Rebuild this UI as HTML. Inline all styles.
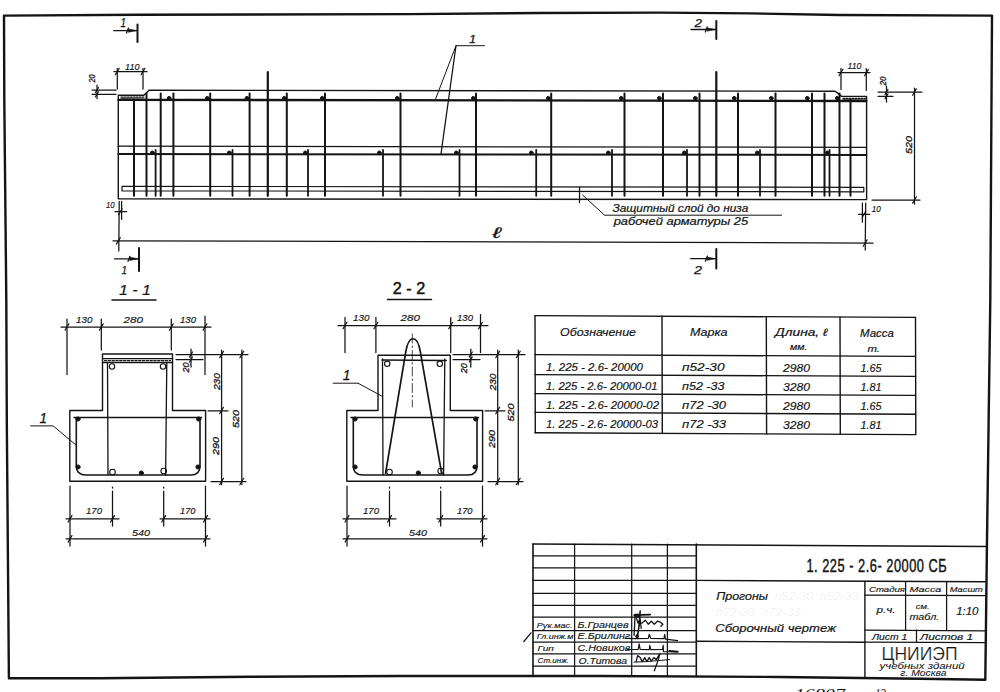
<!DOCTYPE html>
<html><head><meta charset="utf-8"><style>
html,body{margin:0;padding:0;background:#fff;width:1000px;height:692px;overflow:hidden}
svg{display:block}
line,polyline,polygon,path,circle{stroke:#141414;stroke-linecap:round;stroke-linejoin:round}
text{font-family:"Liberation Sans",sans-serif;fill:#141414;stroke:#141414}
.h{font-style:italic}
.b{font-weight:bold}
.thin{stroke:#fff}
.sf{font-family:"Liberation Serif",serif;font-style:italic}
.g{fill:#f4f4f4;stroke:none;font-style:italic}
</style></head><body>
<svg width="1000" height="692" viewBox="0 0 1000 692">
<polygon points="4.00,15.60 140.00,14.75 410.00,14.10 540.00,13.00 660.00,12.60 750.00,13.40 840.00,15.00 992.00,15.60 990.30,300.00 987.00,540.00 985.30,679.80 920.00,678.80 780.00,677.00 600.00,676.00 400.00,676.00 250.00,676.80 100.00,678.20 8.90,678.30 8.10,580.00 6.80,420.00 6.30,300.00 4.30,100.00" stroke-width="2.4" fill="none"/>
<line x1="137.50" y1="24.40" x2="137.50" y2="42.00" stroke-width="2.0"/>
<line x1="113.70" y1="30.60" x2="137.50" y2="30.60" stroke-width="1.3"/>
<path d="M128.5,29.0 L136.5,30.6 L128.5,32.2 Z" stroke-width="0.6" fill="#111"/>
<line x1="126.50" y1="33.10" x2="128.50" y2="28.10" stroke-width="1.25"/>
<text x="120.50" y="27.00" font-size="12.5" textLength="5.50" lengthAdjust="spacingAndGlyphs" class="h" stroke-width="0.25">1</text>
<line x1="716.30" y1="21.00" x2="716.30" y2="39.00" stroke-width="2.0"/>
<line x1="691.00" y1="29.50" x2="716.30" y2="29.50" stroke-width="1.3"/>
<path d="M707.3,27.9 L715.3,29.5 L707.3,31.1 Z" stroke-width="0.6" fill="#111"/>
<line x1="705.30" y1="32.00" x2="707.30" y2="27.00" stroke-width="1.25"/>
<text x="694.50" y="27.00" font-size="11" textLength="7.50" lengthAdjust="spacingAndGlyphs" class="h" stroke-width="0.25">2</text>
<line x1="139.00" y1="248.00" x2="139.00" y2="271.00" stroke-width="2.0"/>
<line x1="114.50" y1="258.80" x2="139.00" y2="258.80" stroke-width="1.3"/>
<path d="M130,257.2 L138,258.8 L130,260.40000000000003 Z" stroke-width="0.6" fill="#111"/>
<line x1="128.00" y1="261.30" x2="130.00" y2="256.30" stroke-width="1.25"/>
<text x="121.50" y="274.00" font-size="11" textLength="5.50" lengthAdjust="spacingAndGlyphs" class="h" stroke-width="0.25">1</text>
<line x1="716.30" y1="249.00" x2="716.30" y2="268.50" stroke-width="2.0"/>
<line x1="690.70" y1="258.70" x2="716.30" y2="258.70" stroke-width="1.3"/>
<path d="M707.3,257.09999999999997 L715.3,258.7 L707.3,260.3 Z" stroke-width="0.6" fill="#111"/>
<line x1="705.30" y1="261.20" x2="707.30" y2="256.20" stroke-width="1.25"/>
<text x="694.00" y="274.30" font-size="11" textLength="8.00" lengthAdjust="spacingAndGlyphs" class="h" stroke-width="0.25">2</text>
<polyline points="118.30,198.80 118.30,95.30 143.80,95.30 149.00,90.20 835.20,91.20 841.60,96.40 866.60,96.40 866.60,199.60 118.30,198.80" stroke-width="1.4" fill="none"/>
<line x1="121.00" y1="97.20" x2="144.00" y2="97.20" stroke-width="1.25" stroke-dasharray="1.8,1.2" stroke="#666"/>
<line x1="121.50" y1="99.50" x2="144.00" y2="99.70" stroke-width="2.6"/>
<line x1="843.00" y1="98.30" x2="865.50" y2="98.30" stroke-width="1.25" stroke-dasharray="1.8,1.2" stroke="#666"/>
<line x1="843.50" y1="100.60" x2="865.50" y2="100.80" stroke-width="2.6"/>
<line x1="118.30" y1="99.80" x2="866.30" y2="101.00" stroke-width="2.3"/>
<line x1="118.30" y1="146.20" x2="866.30" y2="147.40" stroke-width="1.25"/>
<line x1="118.30" y1="154.00" x2="866.30" y2="155.00" stroke-width="2.0"/>
<path d="M122,186.3 L863.8,187.3 L863.8,191.8 L122,190.8 Z" stroke-width="1.2" fill="none"/>
<line x1="134.00" y1="100.00" x2="134.00" y2="195.80" stroke-width="2.0"/>
<line x1="146.50" y1="93.50" x2="146.50" y2="195.80" stroke-width="2.0"/>
<line x1="160.70" y1="93.50" x2="160.70" y2="195.80" stroke-width="2.0"/>
<line x1="173.40" y1="93.50" x2="173.40" y2="195.80" stroke-width="2.0"/>
<line x1="210.20" y1="93.50" x2="210.20" y2="195.80" stroke-width="2.0"/>
<line x1="249.60" y1="93.50" x2="249.60" y2="195.80" stroke-width="2.0"/>
<line x1="286.80" y1="93.50" x2="286.80" y2="195.80" stroke-width="2.0"/>
<line x1="325.00" y1="93.50" x2="325.00" y2="195.80" stroke-width="2.0"/>
<line x1="400.50" y1="93.50" x2="400.50" y2="195.80" stroke-width="2.0"/>
<line x1="476.00" y1="93.50" x2="476.00" y2="195.80" stroke-width="2.0"/>
<line x1="551.20" y1="93.50" x2="551.20" y2="195.80" stroke-width="2.0"/>
<line x1="624.50" y1="93.50" x2="624.50" y2="195.80" stroke-width="2.0"/>
<line x1="663.00" y1="93.50" x2="663.00" y2="195.80" stroke-width="2.0"/>
<line x1="699.50" y1="93.50" x2="699.50" y2="195.80" stroke-width="2.0"/>
<line x1="738.00" y1="93.50" x2="738.00" y2="195.80" stroke-width="2.0"/>
<line x1="775.50" y1="93.50" x2="775.50" y2="195.80" stroke-width="2.0"/>
<line x1="812.00" y1="93.50" x2="812.00" y2="195.80" stroke-width="2.0"/>
<line x1="824.50" y1="93.50" x2="824.50" y2="195.80" stroke-width="2.0"/>
<line x1="839.50" y1="93.50" x2="839.50" y2="195.80" stroke-width="2.0"/>
<line x1="850.50" y1="100.00" x2="850.50" y2="195.80" stroke-width="2.0"/>
<line x1="267.80" y1="72.00" x2="267.80" y2="195.80" stroke-width="2.2"/>
<line x1="716.30" y1="72.00" x2="716.30" y2="195.80" stroke-width="2.2"/>
<line x1="155.60" y1="150.00" x2="155.60" y2="195.80" stroke-width="1.8"/>
<line x1="232.50" y1="150.00" x2="232.50" y2="195.80" stroke-width="1.8"/>
<line x1="308.00" y1="150.00" x2="308.00" y2="195.80" stroke-width="1.8"/>
<line x1="383.00" y1="150.00" x2="383.00" y2="195.80" stroke-width="1.8"/>
<line x1="459.50" y1="150.00" x2="459.50" y2="195.80" stroke-width="1.8"/>
<line x1="536.20" y1="150.00" x2="536.20" y2="195.80" stroke-width="1.8"/>
<line x1="612.00" y1="150.00" x2="612.00" y2="195.80" stroke-width="1.8"/>
<line x1="687.00" y1="150.00" x2="687.00" y2="195.80" stroke-width="1.8"/>
<line x1="760.00" y1="150.00" x2="760.00" y2="195.80" stroke-width="1.8"/>
<line x1="829.50" y1="150.00" x2="829.50" y2="195.80" stroke-width="1.8"/>
<circle cx="169.10" cy="98.20" r="1.8" fill="#111" stroke="none"/>
<circle cx="207.30" cy="98.20" r="1.8" fill="#111" stroke="none"/>
<circle cx="246.90" cy="98.20" r="1.8" fill="#111" stroke="none"/>
<circle cx="284.30" cy="98.20" r="1.8" fill="#111" stroke="none"/>
<circle cx="322.30" cy="98.20" r="1.8" fill="#111" stroke="none"/>
<circle cx="397.30" cy="98.20" r="1.8" fill="#111" stroke="none"/>
<circle cx="473.30" cy="98.20" r="1.8" fill="#111" stroke="none"/>
<circle cx="548.30" cy="98.20" r="1.8" fill="#111" stroke="none"/>
<circle cx="621.30" cy="98.20" r="1.8" fill="#111" stroke="none"/>
<circle cx="659.30" cy="98.20" r="1.8" fill="#111" stroke="none"/>
<circle cx="695.30" cy="98.20" r="1.8" fill="#111" stroke="none"/>
<circle cx="734.30" cy="98.20" r="1.8" fill="#111" stroke="none"/>
<circle cx="771.30" cy="98.20" r="1.8" fill="#111" stroke="none"/>
<circle cx="807.30" cy="98.20" r="1.8" fill="#111" stroke="none"/>
<circle cx="837.30" cy="98.20" r="1.8" fill="#111" stroke="none"/>
<circle cx="152.30" cy="152.80" r="1.8" fill="#111" stroke="none"/>
<circle cx="229.30" cy="152.80" r="1.8" fill="#111" stroke="none"/>
<circle cx="305.30" cy="152.80" r="1.8" fill="#111" stroke="none"/>
<circle cx="379.30" cy="152.80" r="1.8" fill="#111" stroke="none"/>
<circle cx="456.30" cy="152.80" r="1.8" fill="#111" stroke="none"/>
<circle cx="531.30" cy="152.80" r="1.8" fill="#111" stroke="none"/>
<circle cx="608.30" cy="152.80" r="1.8" fill="#111" stroke="none"/>
<circle cx="684.30" cy="152.80" r="1.8" fill="#111" stroke="none"/>
<circle cx="757.30" cy="152.80" r="1.8" fill="#111" stroke="none"/>
<circle cx="827.30" cy="152.80" r="1.8" fill="#111" stroke="none"/>
<polyline points="435.00,100.50 456.00,45.70 484.50,45.70" stroke-width="1.0" fill="none"/>
<line x1="456.00" y1="45.70" x2="441.00" y2="153.80" stroke-width="1.25"/>
<text x="469.00" y="43.00" font-size="11" textLength="7.00" lengthAdjust="spacingAndGlyphs" class="h" stroke-width="0.25">1</text>
<line x1="117.30" y1="68.50" x2="117.30" y2="89.00" stroke-width="1.25"/>
<line x1="143.00" y1="68.50" x2="143.00" y2="89.00" stroke-width="1.25"/>
<line x1="114.00" y1="71.50" x2="147.00" y2="71.50" stroke-width="1.25"/>
<line x1="115.38" y1="74.70" x2="119.22" y2="68.30" stroke-width="1.25"/>
<line x1="141.08" y1="74.70" x2="144.92" y2="68.30" stroke-width="1.25"/>
<text x="125.00" y="69.50" font-size="8.5" textLength="14.50" lengthAdjust="spacingAndGlyphs" class="h" stroke-width="0.15">110</text>
<line x1="92.00" y1="90.00" x2="116.00" y2="90.00" stroke-width="1.25"/>
<line x1="92.00" y1="94.30" x2="116.00" y2="94.30" stroke-width="1.25"/>
<line x1="97.00" y1="85.00" x2="97.00" y2="98.50" stroke-width="1.25"/>
<line x1="95.50" y1="92.50" x2="98.50" y2="87.50" stroke-width="1.25"/>
<line x1="95.50" y1="96.80" x2="98.50" y2="91.80" stroke-width="1.25"/>
<text transform="translate(95.36 78.60) rotate(-90)" x="0" y="0" font-size="8.5" text-anchor="middle" textLength="8.00" lengthAdjust="spacingAndGlyphs" class="h" stroke-width="0.3">20</text>
<line x1="841.00" y1="68.50" x2="841.00" y2="89.50" stroke-width="1.25"/>
<line x1="866.30" y1="68.50" x2="866.30" y2="90.40" stroke-width="1.25"/>
<line x1="838.00" y1="72.50" x2="870.00" y2="72.50" stroke-width="1.25"/>
<line x1="839.08" y1="75.70" x2="842.92" y2="69.30" stroke-width="1.25"/>
<line x1="864.58" y1="75.70" x2="868.42" y2="69.30" stroke-width="1.25"/>
<text x="847.50" y="69.00" font-size="8.5" textLength="14.00" lengthAdjust="spacingAndGlyphs" class="h" stroke-width="0.15">110</text>
<line x1="878.00" y1="92.00" x2="922.00" y2="92.00" stroke-width="1.25"/>
<line x1="878.00" y1="96.30" x2="893.00" y2="96.30" stroke-width="1.25"/>
<line x1="886.50" y1="86.00" x2="886.50" y2="102.00" stroke-width="1.25"/>
<line x1="885.00" y1="94.50" x2="888.00" y2="89.50" stroke-width="1.25"/>
<line x1="885.00" y1="98.80" x2="888.00" y2="93.80" stroke-width="1.25"/>
<text transform="translate(886.06 81.00) rotate(-90)" x="0" y="0" font-size="8.5" text-anchor="middle" textLength="9.00" lengthAdjust="spacingAndGlyphs" class="h" stroke-width="0.3">20</text>
<line x1="872.00" y1="200.00" x2="920.00" y2="200.00" stroke-width="1.25"/>
<line x1="914.50" y1="88.00" x2="914.50" y2="204.00" stroke-width="1.25"/>
<line x1="912.58" y1="95.20" x2="916.42" y2="88.80" stroke-width="1.25"/>
<line x1="912.58" y1="203.20" x2="916.42" y2="196.80" stroke-width="1.25"/>
<text transform="translate(912.22 145.00) rotate(-90)" x="0" y="0" font-size="9.5" text-anchor="middle" textLength="18.00" lengthAdjust="spacingAndGlyphs" class="h" stroke-width="0.3">520</text>
<line x1="119.20" y1="201.40" x2="118.80" y2="251.00" stroke-width="1.25"/>
<line x1="121.60" y1="201.40" x2="121.60" y2="219.30" stroke-width="1.25"/>
<line x1="115.00" y1="211.70" x2="126.60" y2="211.70" stroke-width="1.25"/>
<line x1="118.72" y1="214.50" x2="122.08" y2="208.90" stroke-width="1.25"/>
<text x="105.90" y="208.00" font-size="9" textLength="8.60" lengthAdjust="spacingAndGlyphs" class="h" stroke-width="0.15">10</text>
<line x1="865.70" y1="203.00" x2="865.20" y2="250.00" stroke-width="1.25"/>
<line x1="862.40" y1="203.00" x2="862.40" y2="222.00" stroke-width="1.25"/>
<line x1="858.60" y1="214.30" x2="869.70" y2="214.30" stroke-width="1.25"/>
<line x1="862.32" y1="217.10" x2="865.68" y2="211.50" stroke-width="1.25"/>
<text x="871.70" y="211.80" font-size="9" textLength="9.10" lengthAdjust="spacingAndGlyphs" class="h" stroke-width="0.15">10</text>
<line x1="113.00" y1="240.80" x2="873.00" y2="243.00" stroke-width="1.25"/>
<line x1="116.38" y1="244.00" x2="120.22" y2="237.60" stroke-width="1.25"/>
<line x1="863.28" y1="246.20" x2="867.12" y2="239.80" stroke-width="1.25"/>
<text x="492.50" y="237.50" font-size="15" textLength="8.00" lengthAdjust="spacingAndGlyphs" class="h" stroke-width="0.3">ℓ</text>
<line x1="579.50" y1="187.50" x2="579.50" y2="202.50" stroke-width="1.25"/>
<polyline points="582.60,195.00 604.50,215.20 781.60,215.20" stroke-width="1.0" fill="none"/>
<text x="612.50" y="211.70" font-size="10" textLength="135.70" lengthAdjust="spacingAndGlyphs" class="h" stroke-width="0.2">Защитный слой до низа</text>
<text x="613.70" y="224.80" font-size="10" textLength="134.50" lengthAdjust="spacingAndGlyphs" class="h" stroke-width="0.2">рабочей арматуры  25</text>
<polygon points="69.80,481.30 69.80,410.50 102.50,410.50 102.50,354.00 172.50,354.00 172.50,410.50 205.60,410.50 205.60,481.30" stroke-width="1.4" fill="none"/>
<line x1="102.50" y1="358.50" x2="172.50" y2="358.50" stroke-width="1.25"/>
<line x1="102.50" y1="362.50" x2="172.50" y2="362.50" stroke-width="1.4"/>
<line x1="104.50" y1="360.60" x2="170.50" y2="360.60" stroke-width="1.3" stroke-dasharray="2.2,1.6" stroke="#555"/>
<line x1="107.50" y1="362.50" x2="108.00" y2="475.00" stroke-width="1.3"/>
<line x1="166.80" y1="362.50" x2="165.60" y2="475.00" stroke-width="1.3"/>
<circle cx="112.00" cy="366.50" r="2.7" fill="none" stroke-width="1.1"/>
<circle cx="163.00" cy="366.50" r="2.7" fill="none" stroke-width="1.1"/>
<line x1="74.00" y1="417.50" x2="201.50" y2="417.50" stroke-width="1.5"/>
<path d="M76.3,418 L76.3,466 Q76.3,475 86,475 L191,475 Q200,475 200,466 L200,418" stroke-width="1.6" fill="none"/>
<circle cx="78.00" cy="419.00" r="2.1" fill="#111" stroke="none"/>
<circle cx="198.70" cy="419.00" r="2.1" fill="#111" stroke="none"/>
<circle cx="78.00" cy="467.00" r="2.1" fill="#111" stroke="none"/>
<circle cx="198.00" cy="467.00" r="2.1" fill="#111" stroke="none"/>
<circle cx="112.50" cy="472.00" r="2.8" fill="none" stroke-width="1.1"/>
<circle cx="163.70" cy="471.00" r="2.8" fill="none" stroke-width="1.1"/>
<circle cx="141.30" cy="473.00" r="2.1" fill="#111" stroke="none"/>
<line x1="61.00" y1="327.00" x2="211.00" y2="327.00" stroke-width="1.25"/>
<line x1="65.08" y1="330.20" x2="68.92" y2="323.80" stroke-width="1.25"/>
<line x1="99.38" y1="330.20" x2="103.22" y2="323.80" stroke-width="1.25"/>
<line x1="169.38" y1="330.20" x2="173.22" y2="323.80" stroke-width="1.25"/>
<line x1="203.08" y1="330.20" x2="206.92" y2="323.80" stroke-width="1.25"/>
<line x1="67.00" y1="319.00" x2="67.00" y2="374.50" stroke-width="1.25"/>
<line x1="205.00" y1="316.00" x2="205.00" y2="374.50" stroke-width="1.25"/>
<line x1="101.30" y1="319.00" x2="101.30" y2="350.00" stroke-width="1.25"/>
<line x1="171.30" y1="319.00" x2="171.30" y2="350.00" stroke-width="1.25"/>
<text x="76.00" y="322.50" font-size="9" textLength="16.40" lengthAdjust="spacingAndGlyphs" class="h" stroke-width="0.15">130</text>
<text x="123.60" y="322.50" font-size="9" textLength="19.40" lengthAdjust="spacingAndGlyphs" class="h" stroke-width="0.15">280</text>
<text x="180.00" y="322.50" font-size="9" textLength="16.00" lengthAdjust="spacingAndGlyphs" class="h" stroke-width="0.15">130</text>
<line x1="176.00" y1="354.50" x2="248.00" y2="354.50" stroke-width="1.25"/>
<line x1="176.00" y1="359.50" x2="203.00" y2="359.50" stroke-width="1.25"/>
<line x1="191.00" y1="349.00" x2="191.00" y2="367.00" stroke-width="1.25"/>
<line x1="189.50" y1="357.00" x2="192.50" y2="352.00" stroke-width="1.25"/>
<line x1="189.50" y1="362.00" x2="192.50" y2="357.00" stroke-width="1.25"/>
<text transform="translate(189.24 367.50) rotate(-90)" x="0" y="0" font-size="9" text-anchor="middle" textLength="10.00" lengthAdjust="spacingAndGlyphs" class="h" stroke-width="0.3">20</text>
<line x1="221.60" y1="350.00" x2="221.60" y2="484.50" stroke-width="1.25"/>
<line x1="219.68" y1="357.70" x2="223.52" y2="351.30" stroke-width="1.25"/>
<line x1="219.68" y1="413.70" x2="223.52" y2="407.30" stroke-width="1.25"/>
<line x1="219.68" y1="484.70" x2="223.52" y2="478.30" stroke-width="1.25"/>
<line x1="208.00" y1="410.80" x2="228.00" y2="410.80" stroke-width="1.25"/>
<line x1="211.00" y1="481.50" x2="246.00" y2="481.50" stroke-width="1.25"/>
<line x1="241.80" y1="350.00" x2="241.80" y2="484.50" stroke-width="1.25"/>
<line x1="239.88" y1="357.70" x2="243.72" y2="351.30" stroke-width="1.25"/>
<line x1="239.88" y1="484.70" x2="243.72" y2="478.30" stroke-width="1.25"/>
<text transform="translate(219.52 381.60) rotate(-90)" x="0" y="0" font-size="9.5" text-anchor="middle" textLength="17.00" lengthAdjust="spacingAndGlyphs" class="h" stroke-width="0.3">230</text>
<text transform="translate(238.52 419.00) rotate(-90)" x="0" y="0" font-size="9.5" text-anchor="middle" textLength="18.00" lengthAdjust="spacingAndGlyphs" class="h" stroke-width="0.3">520</text>
<text transform="translate(218.92 446.00) rotate(-90)" x="0" y="0" font-size="9.5" text-anchor="middle" textLength="18.00" lengthAdjust="spacingAndGlyphs" class="h" stroke-width="0.3">290</text>
<line x1="70.00" y1="486.00" x2="70.00" y2="546.00" stroke-width="1.25"/>
<line x1="205.50" y1="486.00" x2="205.50" y2="546.00" stroke-width="1.25"/>
<line x1="112.50" y1="487.00" x2="112.50" y2="488.00" stroke-width="1.25"/>
<line x1="112.50" y1="491.00" x2="112.50" y2="526.00" stroke-width="1.25"/>
<line x1="163.70" y1="487.00" x2="163.70" y2="488.00" stroke-width="1.25"/>
<line x1="163.70" y1="491.00" x2="163.70" y2="526.00" stroke-width="1.25"/>
<line x1="66.00" y1="518.80" x2="119.00" y2="518.80" stroke-width="1.25"/>
<line x1="160.00" y1="518.80" x2="210.00" y2="518.80" stroke-width="1.25"/>
<line x1="68.08" y1="522.00" x2="71.92" y2="515.60" stroke-width="1.25"/>
<line x1="110.58" y1="522.00" x2="114.42" y2="515.60" stroke-width="1.25"/>
<line x1="161.78" y1="522.00" x2="165.62" y2="515.60" stroke-width="1.25"/>
<line x1="203.58" y1="522.00" x2="207.42" y2="515.60" stroke-width="1.25"/>
<line x1="66.00" y1="538.80" x2="210.00" y2="538.80" stroke-width="1.25"/>
<line x1="68.08" y1="542.00" x2="71.92" y2="535.60" stroke-width="1.25"/>
<line x1="203.58" y1="542.00" x2="207.42" y2="535.60" stroke-width="1.25"/>
<text x="86.00" y="514.00" font-size="9" textLength="16.00" lengthAdjust="spacingAndGlyphs" class="h" stroke-width="0.15">170</text>
<text x="180.00" y="514.00" font-size="9" textLength="15.50" lengthAdjust="spacingAndGlyphs" class="h" stroke-width="0.15">170</text>
<text x="132.00" y="535.50" font-size="9" textLength="18.00" lengthAdjust="spacingAndGlyphs" class="h" stroke-width="0.15">540</text>
<polygon points="346.80,481.30 346.80,410.50 378.00,410.50 378.00,355.30 450.30,355.30 450.30,410.50 482.60,410.50 482.60,481.30" stroke-width="1.4" fill="none"/>
<line x1="382.50" y1="359.00" x2="383.00" y2="475.00" stroke-width="1.3"/>
<line x1="444.80" y1="359.00" x2="443.60" y2="475.00" stroke-width="1.3"/>
<line x1="382.00" y1="360.00" x2="446.30" y2="360.50" stroke-width="1.4"/>
<circle cx="387.20" cy="363.80" r="2.7" fill="none" stroke-width="1.1"/>
<circle cx="439.80" cy="363.80" r="2.7" fill="none" stroke-width="1.1"/>
<line x1="351.00" y1="417.50" x2="478.50" y2="417.50" stroke-width="1.5"/>
<path d="M353.3,418 L353.3,466 Q353.3,475 363,475 L468,475 Q477,475 477,466 L477,418" stroke-width="1.6" fill="none"/>
<circle cx="355.00" cy="419.00" r="2.1" fill="#111" stroke="none"/>
<circle cx="475.70" cy="419.00" r="2.1" fill="#111" stroke="none"/>
<circle cx="355.00" cy="467.00" r="2.1" fill="#111" stroke="none"/>
<circle cx="475.00" cy="467.00" r="2.1" fill="#111" stroke="none"/>
<circle cx="389.50" cy="472.00" r="2.8" fill="none" stroke-width="1.1"/>
<circle cx="440.70" cy="471.00" r="2.8" fill="none" stroke-width="1.1"/>
<circle cx="418.30" cy="473.00" r="2.1" fill="#111" stroke="none"/>
<line x1="338.00" y1="325.50" x2="488.00" y2="325.50" stroke-width="1.25"/>
<line x1="343.08" y1="328.70" x2="346.92" y2="322.30" stroke-width="1.25"/>
<line x1="373.98" y1="328.70" x2="377.82" y2="322.30" stroke-width="1.25"/>
<line x1="448.78" y1="328.70" x2="452.62" y2="322.30" stroke-width="1.25"/>
<line x1="478.58" y1="328.70" x2="482.42" y2="322.30" stroke-width="1.25"/>
<line x1="345.00" y1="317.50" x2="345.00" y2="352.60" stroke-width="1.25"/>
<line x1="480.50" y1="314.50" x2="480.50" y2="352.60" stroke-width="1.25"/>
<line x1="375.90" y1="317.50" x2="375.90" y2="352.60" stroke-width="1.25"/>
<line x1="450.70" y1="317.50" x2="450.70" y2="352.60" stroke-width="1.25"/>
<text x="353.00" y="321.00" font-size="9" textLength="16.40" lengthAdjust="spacingAndGlyphs" class="h" stroke-width="0.15">130</text>
<text x="400.60" y="321.00" font-size="9" textLength="19.40" lengthAdjust="spacingAndGlyphs" class="h" stroke-width="0.15">280</text>
<text x="457.00" y="321.00" font-size="9" textLength="16.00" lengthAdjust="spacingAndGlyphs" class="h" stroke-width="0.15">130</text>
<line x1="453.00" y1="354.50" x2="525.00" y2="354.50" stroke-width="1.25"/>
<line x1="453.00" y1="359.50" x2="480.00" y2="359.50" stroke-width="1.25"/>
<line x1="470.80" y1="349.00" x2="470.80" y2="367.00" stroke-width="1.25"/>
<line x1="469.30" y1="357.00" x2="472.30" y2="352.00" stroke-width="1.25"/>
<line x1="469.30" y1="362.00" x2="472.30" y2="357.00" stroke-width="1.25"/>
<text transform="translate(467.24 368.30) rotate(-90)" x="0" y="0" font-size="9" text-anchor="middle" textLength="10.00" lengthAdjust="spacingAndGlyphs" class="h" stroke-width="0.3">20</text>
<line x1="497.70" y1="350.00" x2="497.70" y2="484.50" stroke-width="1.25"/>
<line x1="495.78" y1="357.70" x2="499.62" y2="351.30" stroke-width="1.25"/>
<line x1="495.78" y1="413.70" x2="499.62" y2="407.30" stroke-width="1.25"/>
<line x1="495.78" y1="484.70" x2="499.62" y2="478.30" stroke-width="1.25"/>
<line x1="485.00" y1="410.80" x2="505.00" y2="410.80" stroke-width="1.25"/>
<line x1="488.00" y1="481.50" x2="523.00" y2="481.50" stroke-width="1.25"/>
<line x1="518.30" y1="350.00" x2="518.30" y2="484.50" stroke-width="1.25"/>
<line x1="516.38" y1="357.70" x2="520.22" y2="351.30" stroke-width="1.25"/>
<line x1="516.38" y1="484.70" x2="520.22" y2="478.30" stroke-width="1.25"/>
<text transform="translate(496.32 382.00) rotate(-90)" x="0" y="0" font-size="9.5" text-anchor="middle" textLength="17.00" lengthAdjust="spacingAndGlyphs" class="h" stroke-width="0.3">230</text>
<text transform="translate(514.22 412.40) rotate(-90)" x="0" y="0" font-size="9.5" text-anchor="middle" textLength="18.00" lengthAdjust="spacingAndGlyphs" class="h" stroke-width="0.3">520</text>
<text transform="translate(494.92 439.10) rotate(-90)" x="0" y="0" font-size="9.5" text-anchor="middle" textLength="18.00" lengthAdjust="spacingAndGlyphs" class="h" stroke-width="0.3">290</text>
<line x1="347.00" y1="486.00" x2="347.00" y2="546.00" stroke-width="1.25"/>
<line x1="482.50" y1="486.00" x2="482.50" y2="546.00" stroke-width="1.25"/>
<line x1="389.50" y1="487.00" x2="389.50" y2="488.00" stroke-width="1.25"/>
<line x1="389.50" y1="491.00" x2="389.50" y2="526.00" stroke-width="1.25"/>
<line x1="440.70" y1="487.00" x2="440.70" y2="488.00" stroke-width="1.25"/>
<line x1="440.70" y1="491.00" x2="440.70" y2="526.00" stroke-width="1.25"/>
<line x1="343.00" y1="518.80" x2="396.00" y2="518.80" stroke-width="1.25"/>
<line x1="437.00" y1="518.80" x2="487.00" y2="518.80" stroke-width="1.25"/>
<line x1="345.08" y1="522.00" x2="348.92" y2="515.60" stroke-width="1.25"/>
<line x1="387.58" y1="522.00" x2="391.42" y2="515.60" stroke-width="1.25"/>
<line x1="438.78" y1="522.00" x2="442.62" y2="515.60" stroke-width="1.25"/>
<line x1="480.58" y1="522.00" x2="484.42" y2="515.60" stroke-width="1.25"/>
<line x1="343.00" y1="538.80" x2="487.00" y2="538.80" stroke-width="1.25"/>
<line x1="345.08" y1="542.00" x2="348.92" y2="535.60" stroke-width="1.25"/>
<line x1="480.58" y1="542.00" x2="484.42" y2="535.60" stroke-width="1.25"/>
<text x="363.00" y="514.00" font-size="9" textLength="16.00" lengthAdjust="spacingAndGlyphs" class="h" stroke-width="0.15">170</text>
<text x="457.00" y="514.00" font-size="9" textLength="15.50" lengthAdjust="spacingAndGlyphs" class="h" stroke-width="0.15">170</text>
<text x="409.00" y="535.50" font-size="9" textLength="18.00" lengthAdjust="spacingAndGlyphs" class="h" stroke-width="0.15">540</text>
<path d="M385.6,473.2 L405.8,351.7 C408.7,334.4 417.4,334.4 420.3,351.7 L441.6,473.2" stroke-width="1.7" fill="none"/>
<line x1="412.3" y1="334" x2="412.3" y2="407" stroke-width="0.8" stroke-dasharray="9,3,1.5,3"/>
<text x="119.00" y="295.00" font-size="15.5" textLength="32.00" lengthAdjust="spacingAndGlyphs" class="h" stroke-width="0.15">1 - 1</text>
<line x1="112.00" y1="300.00" x2="156.00" y2="300.00" stroke-width="1.5"/>
<text x="392.80" y="294.00" font-size="16.5" textLength="32.40" lengthAdjust="spacingAndGlyphs" class="s" stroke-width="0.5">2 - 2</text>
<line x1="387.50" y1="299.50" x2="431.50" y2="299.50" stroke-width="1.5"/>
<polyline points="30.60,425.90 53.20,425.90 76.30,445.30" stroke-width="1.0" fill="none"/>
<text x="39.50" y="422.80" font-size="14" textLength="7.50" lengthAdjust="spacingAndGlyphs" class="h" stroke-width="0.25">1</text>
<polyline points="333.20,383.20 358.00,383.20 382.40,396.40" stroke-width="1.0" fill="none"/>
<text x="342.80" y="380.00" font-size="14" textLength="7.70" lengthAdjust="spacingAndGlyphs" class="h" stroke-width="0.25">1</text>
<line x1="535.00" y1="315.60" x2="915.50" y2="317.40" stroke-width="1.4"/>
<line x1="535.00" y1="354.60" x2="915.50" y2="356.40" stroke-width="1.4"/>
<line x1="535.00" y1="374.60" x2="915.50" y2="376.40" stroke-width="1.4"/>
<line x1="535.00" y1="393.60" x2="915.50" y2="395.40" stroke-width="1.4"/>
<line x1="535.00" y1="412.40" x2="915.50" y2="414.20" stroke-width="1.4"/>
<line x1="535.00" y1="432.80" x2="915.50" y2="434.60" stroke-width="1.4"/>
<line x1="535.00" y1="315.60" x2="535.30" y2="432.80" stroke-width="1.4"/>
<line x1="662.00" y1="316.20" x2="662.30" y2="433.40" stroke-width="1.4"/>
<line x1="766.30" y1="316.69" x2="766.60" y2="433.89" stroke-width="1.4"/>
<line x1="840.00" y1="317.04" x2="840.30" y2="434.24" stroke-width="1.4"/>
<line x1="915.50" y1="317.40" x2="915.80" y2="434.60" stroke-width="1.4"/>
<text x="560.00" y="335.50" font-size="10" textLength="76.00" lengthAdjust="spacingAndGlyphs" class="h" stroke-width="0.15">Обозначение</text>
<text x="690.00" y="335.50" font-size="10" textLength="37.50" lengthAdjust="spacingAndGlyphs" class="h" stroke-width="0.15">Марка</text>
<text x="775.00" y="336.00" font-size="10.5" textLength="52.50" lengthAdjust="spacingAndGlyphs" class="h" stroke-width="0.2">Длина, ℓ</text>
<text x="790.00" y="350.00" font-size="9.5" textLength="17.50" lengthAdjust="spacingAndGlyphs" class="h" stroke-width="0.2">мм.</text>
<text x="860.00" y="337.00" font-size="10.5" textLength="33.80" lengthAdjust="spacingAndGlyphs" class="h" stroke-width="0.2">Масса</text>
<text x="867.50" y="351.50" font-size="9.5" textLength="12.50" lengthAdjust="spacingAndGlyphs" class="h" stroke-width="0.2">т.</text>
<text x="546.00" y="370.50" font-size="10" textLength="97.00" lengthAdjust="spacingAndGlyphs" class="h" stroke-width="0.15">1. 225 - 2.6- 20000</text>
<text x="682.00" y="370.50" font-size="10" textLength="42.50" lengthAdjust="spacingAndGlyphs" class="h" stroke-width="0.15">п52-30</text>
<text x="783.00" y="371.50" font-size="10" textLength="27.00" lengthAdjust="spacingAndGlyphs" class="h" stroke-width="0.15">2980</text>
<text x="860.50" y="371.50" font-size="10" textLength="21.00" lengthAdjust="spacingAndGlyphs" class="h" stroke-width="0.15">1.65</text>
<text x="546.00" y="390.00" font-size="10" textLength="111.50" lengthAdjust="spacingAndGlyphs" class="h" stroke-width="0.15">1. 225 - 2.6- 20000-01</text>
<text x="682.00" y="390.00" font-size="10" textLength="42.50" lengthAdjust="spacingAndGlyphs" class="h" stroke-width="0.15">п52 -33</text>
<text x="783.00" y="391.00" font-size="10" textLength="27.00" lengthAdjust="spacingAndGlyphs" class="h" stroke-width="0.15">3280</text>
<text x="860.50" y="391.00" font-size="10" textLength="21.00" lengthAdjust="spacingAndGlyphs" class="h" stroke-width="0.15">1.81</text>
<text x="546.00" y="409.00" font-size="10" textLength="113.00" lengthAdjust="spacingAndGlyphs" class="h" stroke-width="0.15">1. 225 - 2.6- 20000-02</text>
<text x="682.00" y="409.00" font-size="10" textLength="44.00" lengthAdjust="spacingAndGlyphs" class="h" stroke-width="0.15">п72 -30</text>
<text x="783.00" y="410.00" font-size="10" textLength="27.00" lengthAdjust="spacingAndGlyphs" class="h" stroke-width="0.15">2980</text>
<text x="860.50" y="410.00" font-size="10" textLength="21.00" lengthAdjust="spacingAndGlyphs" class="h" stroke-width="0.15">1.65</text>
<text x="546.00" y="428.20" font-size="10" textLength="112.00" lengthAdjust="spacingAndGlyphs" class="h" stroke-width="0.15">1. 225 - 2.6- 20000-03</text>
<text x="682.00" y="428.20" font-size="10" textLength="44.00" lengthAdjust="spacingAndGlyphs" class="h" stroke-width="0.15">п72 -33</text>
<text x="783.00" y="429.20" font-size="10" textLength="27.00" lengthAdjust="spacingAndGlyphs" class="h" stroke-width="0.15">3280</text>
<text x="860.50" y="429.20" font-size="10" textLength="21.00" lengthAdjust="spacingAndGlyphs" class="h" stroke-width="0.15">1.81</text>
<line x1="533.00" y1="544.00" x2="986.50" y2="546.50" stroke-width="1.6"/>
<line x1="533.00" y1="544.00" x2="533.00" y2="676.00" stroke-width="1.6"/>
<line x1="533.00" y1="555.80" x2="696.30" y2="555.80" stroke-width="1.25"/>
<line x1="533.00" y1="567.80" x2="696.30" y2="567.80" stroke-width="1.25"/>
<line x1="533.00" y1="580.30" x2="696.30" y2="580.30" stroke-width="1.25"/>
<line x1="533.00" y1="593.30" x2="696.30" y2="593.30" stroke-width="1.25"/>
<line x1="533.00" y1="605.30" x2="696.30" y2="605.30" stroke-width="1.25"/>
<line x1="533.00" y1="617.10" x2="696.30" y2="617.10" stroke-width="1.25"/>
<line x1="533.00" y1="630.70" x2="696.30" y2="630.70" stroke-width="1.25"/>
<line x1="533.00" y1="642.00" x2="696.30" y2="642.00" stroke-width="1.25"/>
<line x1="533.00" y1="653.90" x2="696.30" y2="653.90" stroke-width="1.25"/>
<line x1="533.00" y1="666.10" x2="696.30" y2="666.10" stroke-width="1.25"/>
<line x1="574.60" y1="544.00" x2="574.60" y2="676.00" stroke-width="1.25"/>
<line x1="631.70" y1="544.00" x2="631.70" y2="676.00" stroke-width="1.25"/>
<line x1="667.40" y1="544.00" x2="667.40" y2="676.00" stroke-width="1.25"/>
<line x1="696.30" y1="544.00" x2="696.30" y2="676.50" stroke-width="1.6"/>
<line x1="696.30" y1="580.40" x2="986.50" y2="581.80" stroke-width="1.4"/>
<line x1="696.30" y1="641.20" x2="865.00" y2="642.20" stroke-width="1.4"/>
<line x1="864.90" y1="582.00" x2="864.90" y2="678.00" stroke-width="1.4"/>
<line x1="865.00" y1="595.00" x2="986.50" y2="595.50" stroke-width="1.25"/>
<line x1="865.00" y1="630.20" x2="986.50" y2="630.80" stroke-width="1.25"/>
<line x1="865.00" y1="642.20" x2="986.50" y2="642.60" stroke-width="1.25"/>
<line x1="905.60" y1="582.00" x2="905.60" y2="630.20" stroke-width="1.25"/>
<line x1="946.60" y1="582.00" x2="946.60" y2="630.20" stroke-width="1.25"/>
<line x1="916.50" y1="630.20" x2="916.50" y2="642.30" stroke-width="1.25"/>
<line x1="523.80" y1="641.50" x2="531.00" y2="632.80" stroke-width="1.25"/>
<text x="536.80" y="627.50" font-size="8" textLength="35.70" lengthAdjust="spacingAndGlyphs" class="h" stroke-width="0.15">Рук.мас.</text>
<text x="536.80" y="638.90" font-size="8" textLength="36.60" lengthAdjust="spacingAndGlyphs" class="h" stroke-width="0.15">Гл.инж.м</text>
<text x="537.60" y="650.80" font-size="8" textLength="16.20" lengthAdjust="spacingAndGlyphs" class="h" stroke-width="0.15">Гип</text>
<text x="537.60" y="662.70" font-size="8" textLength="31.40" lengthAdjust="spacingAndGlyphs" class="h" stroke-width="0.15">Ст.инж.</text>
<text x="577.60" y="627.90" font-size="9" textLength="51.00" lengthAdjust="spacingAndGlyphs" class="h" stroke-width="0.15">Б.Гранцев</text>
<text x="577.60" y="639.30" font-size="9" textLength="52.70" lengthAdjust="spacingAndGlyphs" class="h" stroke-width="0.15">Е.Брилинг</text>
<text x="577.60" y="650.80" font-size="9" textLength="52.70" lengthAdjust="spacingAndGlyphs" class="h" stroke-width="0.15">С.Новиков</text>
<text x="578.50" y="663.60" font-size="9" textLength="48.50" lengthAdjust="spacingAndGlyphs" class="h" stroke-width="0.15">О.Титова</text>
<text transform="translate(806.40 571.60) scale(0.72 1)" x="0" y="0" font-size="17.8" textLength="194.86" lengthAdjust="spacing" class="n" stroke-width="0.45">1. 225 - 2.6- 20000 СБ</text>
<text x="716.20" y="600.00" font-size="11" textLength="51.80" lengthAdjust="spacingAndGlyphs" class="h" stroke-width="0.2">Прогоны</text>
<text x="774.80" y="600.00" font-size="11" textLength="86.80" lengthAdjust="spacingAndGlyphs" class="g" stroke-width="0">п52-30, п52-33,</text>
<text x="716.00" y="616.40" font-size="11" textLength="87.70" lengthAdjust="spacingAndGlyphs" class="g" stroke-width="0">п72-30, п72-33.</text>
<text x="715.30" y="632.00" font-size="11.5" textLength="120.70" lengthAdjust="spacingAndGlyphs" class="h" stroke-width="0.2">Сборочный  чертеж</text>
<text x="869.00" y="592.00" font-size="8" textLength="36.00" lengthAdjust="spacingAndGlyphs" class="h" stroke-width="0.15">Стадия</text>
<text x="909.50" y="592.00" font-size="8" textLength="31.80" lengthAdjust="spacingAndGlyphs" class="h" stroke-width="0.15">Масса</text>
<text x="949.80" y="592.00" font-size="8" textLength="33.00" lengthAdjust="spacingAndGlyphs" class="h" stroke-width="0.15">Масшт</text>
<text x="876.50" y="613.00" font-size="9" textLength="19.10" lengthAdjust="spacingAndGlyphs" class="h" stroke-width="0.15">р.ч.</text>
<text x="915.80" y="608.80" font-size="8" textLength="13.90" lengthAdjust="spacingAndGlyphs" class="h" stroke-width="0.15">см.</text>
<text x="909.50" y="620.00" font-size="9" textLength="29.70" lengthAdjust="spacingAndGlyphs" class="h" stroke-width="0.15">табл.</text>
<text x="956.20" y="615.00" font-size="10" textLength="22.30" lengthAdjust="spacingAndGlyphs" class="h" stroke-width="0.15">1:10</text>
<text x="872.00" y="640.00" font-size="8.5" textLength="35.30" lengthAdjust="spacingAndGlyphs" class="h" stroke-width="0.15">Лист 1</text>
<text x="920.00" y="640.00" font-size="8.5" textLength="53.20" lengthAdjust="spacingAndGlyphs" class="h" stroke-width="0.15">Листов  1</text>
<text x="881.50" y="659.50" font-size="17.5" textLength="76.00" lengthAdjust="spacingAndGlyphs" class="thin" stroke-width="0.2">ЦНИИЭП</text>
<text x="879.50" y="669.00" font-size="9" textLength="85.20" lengthAdjust="spacingAndGlyphs" class="h" stroke-width="0.05">учебных зданий</text>
<text x="900.30" y="676.00" font-size="8.5" textLength="46.20" lengthAdjust="spacingAndGlyphs" class="h" stroke-width="0.05">г. Москва</text>
<text x="794.50" y="698.50" font-size="14" textLength="50.50" lengthAdjust="spacingAndGlyphs" class="sf" stroke-width="0">16807</text>
<text x="875.00" y="698.50" font-size="14" textLength="11.00" lengthAdjust="spacingAndGlyphs" class="sf" stroke-width="0">13</text>
<path d="M640.17,611.07 L639.16,625.23 L637.14,638.38" stroke-width="1.6" fill="none"/>
<path d="M635.12,614.10 L634.61,625.23 L634.10,635.35" stroke-width="1.3" fill="none"/>
<path d="M634.10,615.12 L650.29,614.61" stroke-width="1.6" fill="none"/>
<path d="M636.13,617.14 L638.15,623.21 L640.17,619.16 L641.18,628.27" stroke-width="1.3" fill="none"/>
<path d="M641.69,623.21 L645.23,620.17 L648.27,624.22 L651.30,621.18 L654.33,624.22 L657.37,621.18 L660.40,622.20 L662.93,624.22 L660.91,626.24" stroke-width="1.3" fill="none"/>
<ellipse cx="637.64" cy="615.62" rx="2.5" ry="2" fill="#141414" stroke="none"/>
<path d="M625.00,638.38 L635.12,638.58 L648.27,638.38 L649.28,634.33 L650.79,638.38 L663.94,638.58 L664.65,634.33 L665.46,639.19 L677.60,640.61" stroke-width="1.2" fill="none"/>
<ellipse cx="637.14" cy="636.36" rx="1.8" ry="2" fill="#141414" stroke="none"/>
<path d="M627.02,649.51 L638.15,649.51 L639.16,643.94 L640.17,649.51 L649.28,649.71 L649.78,645.46 L650.79,649.71 L662.43,649.51 L663.24,645.46 L663.44,651.53 L677.60,651.73" stroke-width="1.2" fill="none"/>
<path d="M669.51,651.02 L677.60,651.73" stroke-width="2.2" fill="none"/>
<path d="M636.13,661.65 L637.64,655.58 L640.17,657.60 L642.20,661.65 L644.72,657.60 L646.75,661.65 L649.28,657.60 L651.30,661.14 L653.83,657.60 L656.36,659.62 L659.90,653.55 L658.38,659.62 L654.33,670.75" stroke-width="1.3" fill="none"/>
<path d="M634.10,662.15 L645.23,661.65 L669.51,659.62" stroke-width="1.0" fill="none"/>
</svg></body></html>
